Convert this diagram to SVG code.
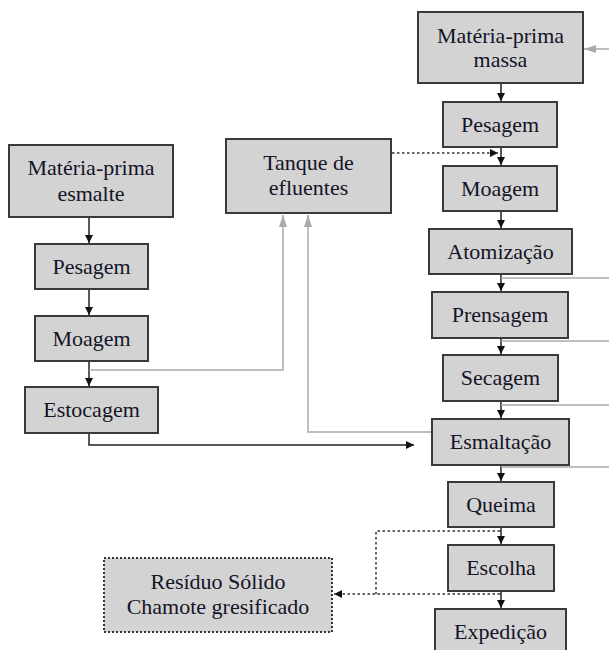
<svg xmlns="http://www.w3.org/2000/svg" width="609" height="650" viewBox="0 0 609 650" font-family="Liberation Serif, Times New Roman, serif">
<defs>
<style>
.box{fill:#d3d3d3;stroke:#3a3a3a;stroke-width:2}
.dbox{fill:#d3d3d3;stroke:#333;stroke-width:2;stroke-dasharray:2,2}
text{font-family:"Liberation Serif",serif}
.t{font-size:22px;fill:#141428;text-anchor:middle}
.k{fill:none;stroke:#222;stroke-width:1.5}
.g{fill:none;stroke:#aaa;stroke-width:1.5}
.d{fill:none;stroke:#666;stroke-width:2;stroke-dasharray:2.5,2.5}
</style>
<marker id="ab" markerWidth="8" markerHeight="10" refX="8" refY="5" orient="auto" markerUnits="userSpaceOnUse" viewBox="0 0 8 10">
<path d="M0,1 L8,5 L0,9 z" fill="#111"/>
</marker>
<marker id="ag" markerWidth="12" markerHeight="10" refX="12" refY="5" orient="auto" markerUnits="userSpaceOnUse" viewBox="0 0 12 10">
<path d="M0,1 L12,5 L0,9 z" fill="#aaa"/>
</marker>
</defs>

<g id="connectors">
<path class="k" d="M501,84 V101" marker-end="url(#ab)"/>
<path class="k" d="M501,148 V165" marker-end="url(#ab)"/>
<path class="k" d="M501,212 V228" marker-end="url(#ab)"/>
<path class="k" d="M501,275 V291" marker-end="url(#ab)"/>
<path class="k" d="M501,339 V354" marker-end="url(#ab)"/>
<path class="k" d="M501,402 V418" marker-end="url(#ab)"/>
<path class="k" d="M501,466 V481" marker-end="url(#ab)"/>
<path class="k" d="M501,528 V544" marker-end="url(#ab)"/>
<path class="k" d="M501,592 V608" marker-end="url(#ab)"/>
<path class="k" d="M89,218 V243" marker-end="url(#ab)"/>
<path class="k" d="M89,290 V315" marker-end="url(#ab)"/>
<path class="k" d="M89,362 V386" marker-end="url(#ab)"/>
<path class="k" d="M89,434 V445 H414" marker-end="url(#ab)"/>
<path class="g" d="M609,49 H584" marker-end="url(#ag)"/>
<path class="g" d="M89,370 H283 V215" marker-end="url(#ag)"/>
<path class="g" d="M432,432 H308 V215" marker-end="url(#ag)"/>
<path class="g" d="M501,278 H609"/>
<path class="g" d="M501,341 H609"/>
<path class="g" d="M501,405 H609"/>
<path class="g" d="M501,467 H609"/>
<path class="d" d="M392,153 H498" marker-end="url(#ab)"/>
<path class="d" d="M500,531 H376 V594"/>
<path class="d" d="M500,594 H334" marker-end="url(#ab)"/>
</g>

<g id="mp-massa"><rect class="box" x="418" y="12" width="165" height="71"/><text class="t" x="500.5" y="43">Matéria-prima</text><text class="t" x="500.5" y="67">massa</text></g>
<g id="pesagem-m"><rect class="box" x="443" y="102" width="114" height="45"/><text class="t" x="500" y="132">Pesagem</text></g>
<g id="moagem-m"><rect class="box" x="443" y="166" width="114" height="45"/><text class="t" x="500" y="196">Moagem</text></g>
<g id="atomizacao"><rect class="box" x="429" y="229" width="143" height="45"/><text class="t" x="500.5" y="259">Atomização</text></g>
<g id="prensagem"><rect class="box" x="432" y="292" width="136" height="46"/><text class="t" x="500" y="322">Prensagem</text></g>
<g id="secagem"><rect class="box" x="443" y="355" width="115" height="46"/><text class="t" x="500.5" y="385">Secagem</text></g>
<g id="esmaltacao"><rect class="box" x="432" y="419" width="137" height="46"/><text class="t" x="500.5" y="449">Esmaltação</text></g>
<g id="queima"><rect class="box" x="448" y="482" width="106" height="45"/><text class="t" x="501" y="512">Queima</text></g>
<g id="escolha"><rect class="box" x="448" y="545" width="106" height="46"/><text class="t" x="501" y="575">Escolha</text></g>
<g id="expedicao"><rect class="box" x="435" y="609" width="131" height="46"/><text class="t" x="500.5" y="639">Expedição</text></g>
<g id="tanque"><rect class="box" x="226" y="139" width="165" height="74"/><text class="t" x="308.5" y="170">Tanque de</text><text class="t" x="308.5" y="195">efluentes</text></g>
<g id="mp-esmalte"><rect class="box" x="9" y="145" width="164" height="72"/><text class="t" x="91" y="175">Matéria-prima</text><text class="t" x="91" y="201">esmalte</text></g>
<g id="pesagem-e"><rect class="box" x="35" y="244" width="113" height="45"/><text class="t" x="91.5" y="274">Pesagem</text></g>
<g id="moagem-e"><rect class="box" x="35" y="316" width="113" height="45"/><text class="t" x="91.5" y="346">Moagem</text></g>
<g id="estocagem"><rect class="box" x="25" y="387" width="133" height="46"/><text class="t" x="91.5" y="417">Estocagem</text></g>
<g id="residuo"><rect class="dbox" x="104" y="558" width="228" height="74"/><text class="t" x="218" y="589">Resíduo Sólido</text><text class="t" x="218" y="614">Chamote gresificado</text></g>
</svg>
